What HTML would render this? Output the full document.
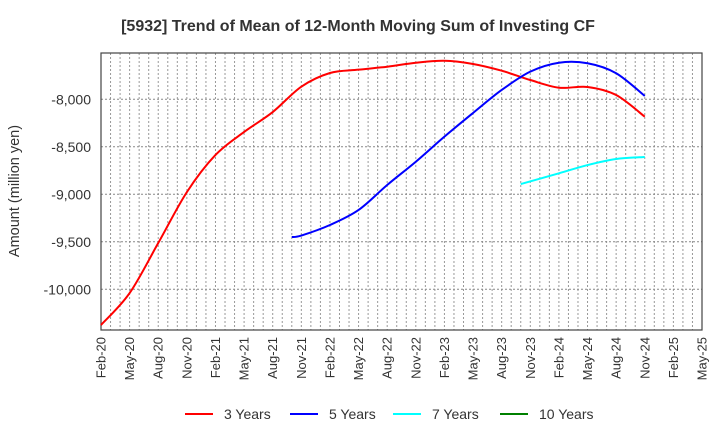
<!DOCTYPE html>
<html><head><meta charset="utf-8"><style>
body{margin:0;background:#fff;font-family:"Liberation Sans",sans-serif}
svg text{font-family:"Liberation Sans",sans-serif;fill:#333}
</style></head><body>
<svg width="720" height="440" xmlns="http://www.w3.org/2000/svg">
<text x="358" y="31" text-anchor="middle" font-size="16" font-weight="bold">[5932]  Trend of Mean of 12-Month Moving Sum of Investing CF</text>
<text transform="translate(19,191) rotate(-90)" text-anchor="middle" font-size="14.5">Amount (million yen)</text>
<g id="grid"></g><g id="axes"></g><g id="series"></g><g id="legend"></g>
</svg>
<script>
const xTickLabels=["Feb-20","May-20","Aug-20","Nov-20","Feb-21","May-21","Aug-21","Nov-21","Feb-22","May-22","Aug-22","Nov-22","Feb-23","May-23","Aug-23","Nov-23","Feb-24","May-24","Aug-24","Nov-24","Feb-25","May-25"];
const yTicks=[-8000,-8500,-9000,-9500,-10000];
const yTickLabels=["-8,000","-8,500","-9,000","-9,500","-10,000"];
const seriesNames=["3 Years","5 Years","7 Years","10 Years"];
const seriesColors=["#ff0000","#0000ff","#00ffff","#008000"];
const months3=[0,3,6,9,12,15,18,21,24,27,30,33,36,39,42,45,48,51,54,57];
const values3=[-10376,-10040,-9513,-8977,-8586,-8344,-8134,-7867,-7723,-7688,-7657,-7615,-7594,-7628,-7699,-7797,-7878,-7870,-7955,-8183];
const months5=[20,21,24,27,30,33,36,39,42,45,48,51,54,57];
const values5=[-9450,-9434,-9323,-9165,-8902,-8657,-8393,-8144,-7902,-7709,-7615,-7621,-7726,-7965];
const months7=[44,48,51,54,57];
const values7=[-8892,-8779,-8692,-8628,-8607];
const months10=[];
const values10=[];

const L=101,R=702,T=53,B=330,NM=63;
const xs=m=>L+m*(R-L)/NM;
const ys=v=>99.3+(-8000-v)*0.095;
const NS="http://www.w3.org/2000/svg";
function mk(tag,attrs,parent){const e=document.createElementNS(NS,tag);for(const k in attrs)e.setAttribute(k,attrs[k]);parent.appendChild(e);return e;}
const grid=document.getElementById('grid'),axes=document.getElementById('axes'),ser=document.getElementById('series'),leg=document.getElementById('legend');
for(let m=1;m<NM;m++){const g=mk('line',{x1:xs(m),x2:xs(m),y1:T,y2:B,stroke:'#999','stroke-dasharray':'2,2','stroke-width':1},grid);

}
yTicks.forEach((v,i)=>{const g=mk('line',{x1:L,x2:R,y1:ys(v),y2:ys(v),stroke:'#888','stroke-dasharray':'2,2'},grid);


const t=mk('text',{x:L-10,y:ys(v)+5,'text-anchor':'end','font-size':14},axes);t.textContent=yTickLabels[i];

});
xTickLabels.forEach((s,i)=>{const x=xs(i*3);const t=mk('text',{transform:`translate(${x+4.5},337) rotate(-90)`,'text-anchor':'end','font-size':13},axes);t.textContent=s;

});
const fr=mk('rect',{x:L,y:T,width:R-L,height:B-T,fill:'none',stroke:'#444','stroke-width':1.2},axes);


function path(ms,vs){if(!ms.length)return '';const p=ms.map((m,i)=>[xs(m),ys(vs[i])]);let d=`M${p[0][0]},${p[0][1]}`;
for(let i=0;i<p.length-1;i++){const p0=p[Math.max(i-1,0)],p1=p[i],p2=p[i+1],p3=p[Math.min(i+2,p.length-1)];
d+=` C${p1[0]+(p2[0]-p0[0])/6},${p1[1]+(p2[1]-p0[1])/6} ${p2[0]-(p3[0]-p1[0])/6},${p2[1]-(p3[1]-p1[1])/6} ${p2[0]},${p2[1]}`;}return d;}
const allM=[months3,months5,months7,months10],allV=[values3,values5,values7,values10];
const snames=['series-3-years','series-5-years','series-7-years','series-10-years'];
allM.forEach((ms,i)=>{if(!ms.length)return;const e=mk('path',{d:path(ms,allV[i]),fill:'none',stroke:seriesColors[i],'stroke-width':2,'stroke-linejoin':'round'},ser);

});
const lx=[185,290,393,500];
seriesNames.forEach((n,i)=>{const g=mk('g',{},leg);


mk('line',{x1:lx[i],x2:lx[i]+28,y1:414,y2:414,stroke:seriesColors[i],'stroke-width':2},g);
const t=mk('text',{x:lx[i]+39,y:419,'font-size':14},g);t.textContent=n;});
</script>
</body></html>
